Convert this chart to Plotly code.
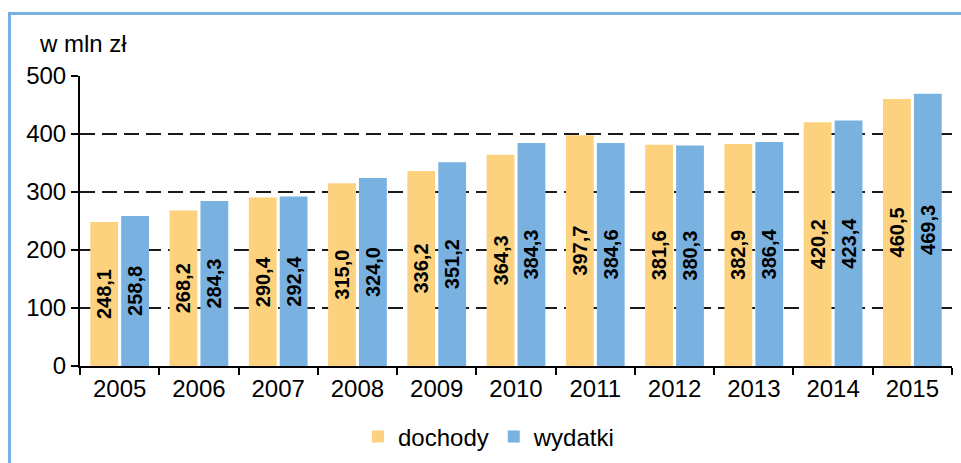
import plotly.graph_objects as go

years = ["2005", "2006", "2007", "2008", "2009", "2010", "2011", "2012", "2013", "2014", "2015"]
dochody = [248.1, 268.2, 290.4, 315.0, 336.2, 364.3, 397.7, 381.6, 382.9, 420.2, 460.5]
wydatki = [258.8, 284.3, 292.4, 324.0, 351.2, 384.3, 384.6, 380.3, 386.4, 423.4, 469.3]
y_ticks = [0, 100, 200, 300, 400, 500]

FONT = "Liberation Sans, Arial, sans-serif"
ORANGE = "#FCD27F"
BLUE = "#79B2E0"

fig = go.Figure()
for name, vals, col in [("dochody", dochody, ORANGE), ("wydatki", wydatki, BLUE)]:
    fig.add_trace(go.Bar(
        x=years, y=vals, name=name,
        marker=dict(color=col, line=dict(width=0)),
        texttemplate="<b>%{y:.1f}</b>",
        textposition="inside", insidetextanchor="middle",
        textangle=-90, constraintext="none",
        textfont=dict(family=FONT, size=20, color="black"),
    ))

W, H = 961, 463
L, R, T, B = 80, 9, 76, 97
pw, ph = W - L - R, H - T - B

def px(x):
    return (x - L) / pw

def py(y):
    return (H - B - y) / ph

fig.update_layout(
    width=W, height=H,
    margin=dict(l=L, r=R, t=T, b=B, autoexpand=False),
    paper_bgcolor="white", plot_bgcolor="white",
    separators=", ",
    barmode="group", bargap=0.22, bargroupgap=0.1,
    font=dict(family=FONT, size=24, color="black"),
    showlegend=True,
    legend=dict(orientation="h", x=px(489), xanchor="center", y=py(437), yanchor="middle",
                font=dict(size=24), bgcolor="rgba(0,0,0,0)", traceorder="normal"),
    xaxis=dict(showline=True, linecolor="black", linewidth=2, automargin=False,
               ticks="outside", tickson="boundaries", ticklen=7, tickwidth=2, tickcolor="black",
               tickfont=dict(size=24), showgrid=False),
    yaxis=dict(range=[0, 500], tickvals=y_ticks, showline=True, linecolor="black", linewidth=2,
               automargin=False,
               ticks="outside", ticklen=7, tickwidth=2, tickcolor="black",
               tickfont=dict(size=24), showgrid=True, gridcolor="#1a1a1a", gridwidth=2,
               griddash="15px,7px", zeroline=False),
    annotations=[dict(text="w mln zł", xref="paper", yref="paper", x=px(37), y=py(43),
                      xanchor="left", yanchor="middle", showarrow=False, font=dict(size=24))],
    shapes=[dict(type="rect", xref="paper", yref="paper",
                 x0=px(9.5), x1=px(990), y0=py(500), y1=py(13.5),
                 line=dict(color="#7AB0DE", width=3), fillcolor="rgba(0,0,0,0)", layer="above")],
)

fig.write_html("out.html", config={"displayModeBar": False},
               post_script="document.body.style.margin='0';document.body.style.overflow='hidden';")
